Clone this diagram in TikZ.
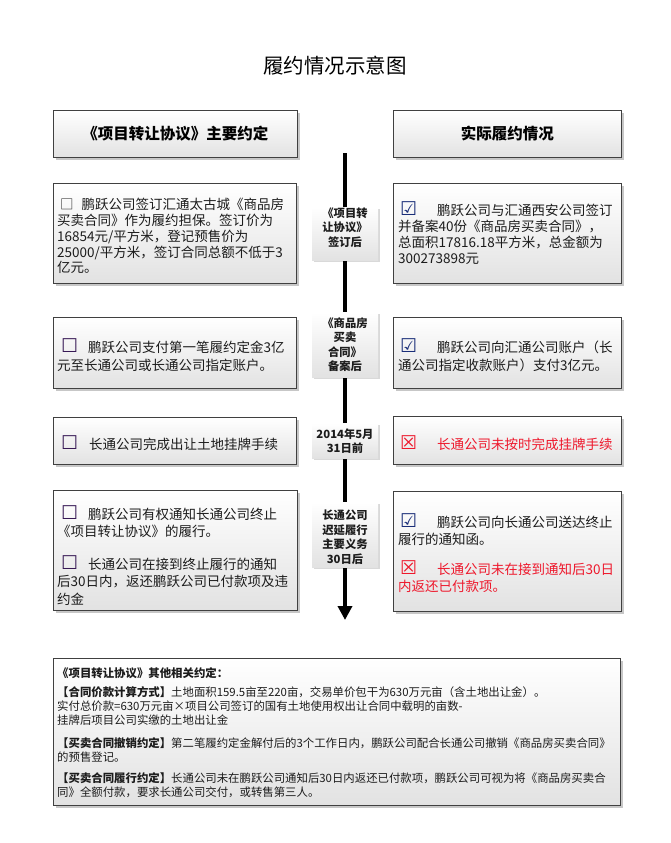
\documentclass[tikz,border=0pt]{standalone}
\usepackage{fontspec}
\setmainfont{Noto Sans CJK SC}
\newfontfamily\symf{DejaVu Sans}
\usetikzlibrary{shadows,arrows.meta}
\definecolor{bordc}{RGB}{64,64,64}
\definecolor{txtc}{RGB}{28,28,28}
\definecolor{redc}{RGB}{238,24,44}
\definecolor{chkc}{RGB}{25,45,120}
\definecolor{uncc}{RGB}{55,25,85}
\definecolor{shadeb}{RGB}{226,226,226}
\newcommand{\unbox}{{\symf\fontsize{19}{16}\selectfont\color{uncc}☐}}
\newcommand{\okbox}{{\symf\fontsize{19}{16}\selectfont\color{chkc}☑}}
\newcommand{\nobox}{{\symf\fontsize{19}{16}\selectfont\color{redc}☒}}
\begin{document}
\begin{tikzpicture}[x=1pt,y=1pt,
  box/.style={draw=bordc, line width=0.9pt, top color=white, bottom color=shadeb,
    anchor=north west, inner sep=0pt,
    drop shadow={shadow xshift=2.5pt, shadow yshift=-2.5pt, fill=black, opacity=.22}},
  midbox/.style={top color=white, bottom color=shadeb, anchor=north west, inner sep=0pt,
    drop shadow={shadow xshift=2pt, shadow yshift=-2pt, fill=black, opacity=.15}},
  body/.style={anchor=north west, inner sep=0pt, align=left, text=txtc},
  midtxt/.style={inner sep=0pt, align=center, text=txtc, font=\bfseries\fontsize{11.3}{14.5}\selectfont},
  head/.style={inner sep=0pt, text=black, font=\bfseries\fontsize{15.5}{18}\selectfont},
  timeline/.style={line width=4pt, -{Triangle[length=14pt,width=14pt]}}]
\useasboundingbox (0,0) rectangle (670,-843);
\fill[white] (0,0) rectangle (670,-843);

% title
\node[inner sep=0pt, font=\fontsize{20.5}{24}\selectfont] (title) at (335,-66) {履约情况示意图};

% headers
\node[box, minimum width=244pt, minimum height=47pt] (HL) at (53,-110) {};
\node[head] (HLt) at (HL.center) {《项目转让协议》主要约定};
\node[box, minimum width=228pt, minimum height=47pt] (HR) at (393,-110) {};
\node[head] (HRt) at (HR.center) {实际履约情况};

% timeline arrow
\coordinate (atop) at (345,-153);
\coordinate (abot) at (345,-620);
\draw[timeline] (atop) -- (abot);

% middle labels
\node[midbox, minimum width=66pt, minimum height=53pt] (M1) at (312,-207) {};
\node[midtxt] (M1t) at (345,-227.5) {《项目转\\让协议》\\签订后};
\node[midbox, minimum width=66pt, minimum height=65pt] (M2) at (312,-312) {};
\node[midtxt] (M2t) at (345,-344.5) {《商品房\\买卖\\合同》\\备案后};
\node[midbox, minimum width=66pt, minimum height=35pt] (M3) at (312,-423) {};
\node[midtxt] (M3t) at (345,-441) {2014年5月\\31日前};
\node[midbox, minimum width=66pt, minimum height=65pt] (M4) at (312,-502) {};
\node[midtxt] (M4t) at (345,-537) {长通公司\\迟延履行\\主要义务\\30日后};

% left boxes
\node[box, minimum width=243pt, minimum height=100pt] (L1) at (53,-183) {};
\node[body, font=\fontsize{13.5}{15.8}\selectfont] (L1t) at (57,-198)
  {\hspace{3pt}□\hspace{8pt}鹏跃公司签订汇通太古城《商品房\\买卖合同》作为履约担保。签订价为\\16854元/平方米，登记预售价为\\25000/平方米，签订合同总额不低于3\\亿元。};
\node[box, minimum width=243pt, minimum height=71pt] (L2) at (53,-317) {};
\node[body, font=\fontsize{13.5}{18}\selectfont] (L2t) at (57,-338)
  {\hspace{4pt}\unbox\hspace{10pt}鹏跃公司支付第一笔履约定金3亿\\元至长通公司或长通公司指定账户。};
\node[box, minimum width=243pt, minimum height=47pt] (L3) at (53,-417) {};
\node[body, font=\fontsize{13.5}{18}\selectfont] (L3t) at (57,-435)
  {\hspace{4pt}\unbox\hspace{11pt}长通公司完成出让土地挂牌手续};
\node[box, minimum width=244pt, minimum height=120pt] (L4) at (53,-490) {};
\node[body, font=\fontsize{13.5}{17.5}\selectfont] (L4t) at (57,-505)
  {\hspace{4pt}\unbox\hspace{10pt}鹏跃公司有权通知长通公司终止\\《项目转让协议》的履行。\\[15pt]\hspace{4pt}\unbox\hspace{10pt}长通公司在接到终止履行的通知\\后30日内，返还鹏跃公司已付款项及违\\约金};

% right boxes
\node[box, minimum width=228pt, minimum height=100pt] (R1) at (393,-183) {};
\node[body, font=\fontsize{13.5}{16.3}\selectfont] (R1t) at (398,-201)
  {\hspace{2pt}\okbox\hspace{20pt}鹏跃公司与汇通西安公司签订\\并备案40份《商品房买卖合同》，\\总面积17816.18平方米，总金额为\\300273898元};
\node[box, minimum width=228pt, minimum height=71pt] (R2) at (393,-317) {};
\node[body, font=\fontsize{13.5}{18}\selectfont] (R2t) at (398,-338)
  {\hspace{2pt}\okbox\hspace{20pt}鹏跃公司向汇通公司账户（长\\通公司指定收款账户）支付3亿元。};
\node[box, minimum width=228pt, minimum height=48pt] (R3) at (393,-416) {};
\node[body, font=\fontsize{13.5}{18}\selectfont] (R3t) at (398,-435)
  {\hspace{2pt}\nobox\hspace{20pt}{\color{redc}长通公司未按时完成挂牌手续}};
\node[box, minimum width=228pt, minimum height=120pt] (R4) at (393,-491) {};
\node[body, font=\fontsize{13.5}{17.5}\selectfont] (R4t) at (398,-513)
  {\hspace{2pt}\okbox\hspace{20pt}鹏跃公司向长通公司送达终止\\履行的通知函。\\[12pt]\hspace{2pt}\nobox\hspace{20pt}{\color{redc}长通公司未在接到通知后30日}\\{\color{redc}内返还已付款项。}};

% bottom box
\node[box, minimum width=567pt, minimum height=147pt] (B) at (53,-658) {};
\node[body, font=\fontsize{11.4}{14}\selectfont] (Bt) at (57,-667)
  {\textbf{《项目转让协议》其他相关约定：}\\[5pt]\textbf{【合同价款计算方式】}土地面积159.5亩至220亩，交易单价包干为630万元亩（含土地出让金）。\\实付总价款=630万元亩×项目公司签订的国有土地使用权出让合同中载明的亩数-\\挂牌后项目公司实缴的土地出让金\\[9pt]\textbf{【买卖合同撤销约定】}第二笔履约定金解付后的3个工作日内，鹏跃公司配合长通公司撤销《商品房买卖合同》\\的预售登记。\\[7pt]\textbf{【买卖合同履行约定】}长通公司未在鹏跃公司通知后30日内返还已付款项，鹏跃公司可视为将《商品房买卖合\\同》全额付款，要求长通公司交付，或转售第三人。};
\end{tikzpicture}
\end{document}
